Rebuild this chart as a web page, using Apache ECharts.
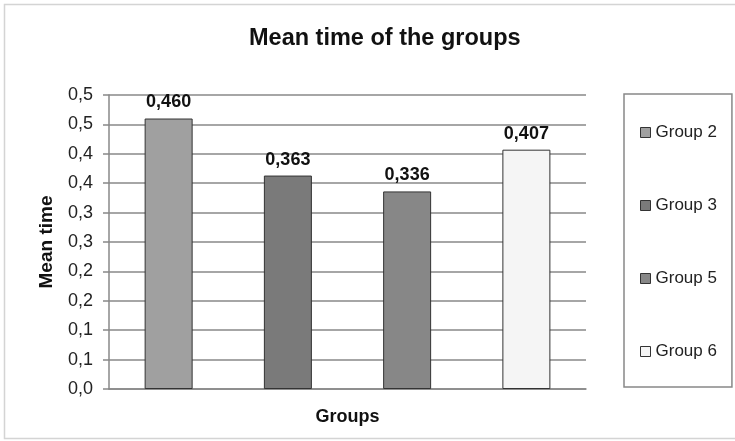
<!DOCTYPE html>
<html>
<head>
<meta charset="utf-8">
<script src="https://cdn.jsdelivr.net/npm/echarts@6/dist/echarts.min.js"></script>
<style>
  html, body { margin: 0; padding: 0; background: #fff; }
  #chart { width: 735px; height: 441px; }
</style>
</head>
<body>
<div id="chart"></div>
<script>
// Mean time per group
const groups = ['Group 2', 'Group 3', 'Group 5', 'Group 6'];
const meanTimes = [0.460, 0.363, 0.336, 0.407];
const barColors = ['#a0a0a0', '#7a7a7a', '#878787', '#f5f5f5'];
// Y tick labels as printed (one decimal, comma separator), for 0 .. 0.5 by 0.05
const yTickLabels = ['0,0', '0,1', '0,1', '0,2', '0,2', '0,3', '0,3', '0,4', '0,4', '0,5', '0,5'];
const yStep = 0.05;

const font = 'Liberation Sans, Arial, sans-serif';

// one series per group, stacked so each bar sits centred in its own category
const series = groups.map((name, i) => ({
  name: name,
  type: 'bar',
  stack: 'groups',
  barWidth: 48,
  data: groups.map((g, j) => (j === i ? meanTimes[i] : '-')),
  itemStyle: { color: barColors[i], borderColor: '#333', borderWidth: 1 },
  label: {
    show: true,
    position: 'top',
    distance: 7,
    fontFamily: font,
    fontWeight: 'bold',
    fontSize: 18,
    color: '#111',
    formatter: p => p.value.toFixed(3).replace('.', ',')
  }
}));

const chart = echarts.init(document.getElementById('chart'));
chart.setOption({
  animation: false,
  backgroundColor: '#fff',
  title: {
    text: 'Mean time of the groups',
    left: 244,
    top: 22,
    textStyle: { fontFamily: font, fontWeight: 'bold', fontSize: 23.5, color: '#111' }
  },
  graphic: [{
    type: 'rect',
    shape: { x: 4.5, y: 4.5, width: 740, height: 434 },
    style: { fill: 'none', stroke: '#d4d4d4', lineWidth: 1.5 },
    silent: true
  }],
  legend: {
    orient: 'vertical',
    left: 624,
    top: 94,
    width: 109,
    padding: [30, 15, 27, 16],
    icon: 'rect',
    itemWidth: 10,
    itemHeight: 10,
    itemGap: 56,
    backgroundColor: '#fff',
    borderColor: '#888',
    borderWidth: 1.5,
    itemStyle: { borderColor: '#333', borderWidth: 1 },
    textStyle: { fontFamily: font, fontSize: 17, color: '#222', lineHeight: 17 },
    data: groups
  },
  grid: { left: 109, right: 149, top: 95, bottom: 52 },
  xAxis: {
    type: 'category',
    data: groups,
    name: 'Groups',
    nameLocation: 'middle',
    nameGap: 19,
    nameTextStyle: { fontFamily: font, fontWeight: 'bold', fontSize: 18, color: '#111' },
    axisLine: { lineStyle: { color: '#888', width: 1.5 } },
    axisTick: { show: false },
    axisLabel: { show: false }
  },
  yAxis: {
    type: 'value',
    min: 0,
    max: 0.5,
    interval: yStep,
    name: 'Mean time',
    nameLocation: 'middle',
    nameGap: 53,
    nameTextStyle: { fontFamily: font, fontWeight: 'bold', fontSize: 19, color: '#111' },
    axisLine: { show: true, lineStyle: { color: '#888', width: 1.5 } },
    axisTick: { show: true, length: 6, lineStyle: { color: '#888', width: 1.5 } },
    splitLine: { lineStyle: { color: '#888', width: 1.5 } },
    axisLabel: {
      margin: 16,
      fontFamily: font,
      fontSize: 18,
      color: '#222',
      formatter: v => yTickLabels[Math.round(v / yStep)]
    }
  },
  series: series
});
</script>
</body>
</html>
